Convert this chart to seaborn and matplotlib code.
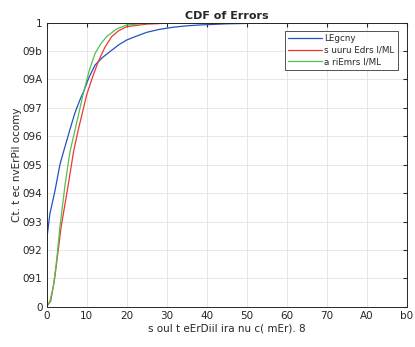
import numpy as np
import pandas as pd
import seaborn as sns
import matplotlib
matplotlib.use("Agg")
import matplotlib.pyplot as plt

# CDF curves (x = error, p = cumulative share)
legacy_x = [0, 0, 0.8, 2.1, 3.3, 4.6, 5.8, 7.0, 8.3, 9.3, 10.5, 12.1, 14.0, 15.8, 18.0,
            20.0, 22.5, 25.0, 28.0, 31.6, 35.0, 38.3, 45.0, 52.0, 60.0, 68.0, 80.0]
legacy_p = [0, 0.235, 0.327, 0.41, 0.5, 0.565, 0.623, 0.68, 0.728, 0.76, 0.805, 0.851, 0.878,
            0.898, 0.922, 0.939, 0.953, 0.966, 0.976, 0.984, 0.989, 0.992, 0.996, 0.998,
            0.999, 1.0, 1.0]

fusion_x = [0, 1.0, 2.0, 3.6, 5.4, 6.7, 7.9, 10.0, 11.5, 12.9, 14.5, 16.25, 18.0, 20.0,
            25.0, 30.0, 40.0, 80.0]
fusion_p = [0, 0.02, 0.1, 0.28, 0.43, 0.545, 0.623, 0.746, 0.81, 0.863, 0.912, 0.951,
            0.972, 0.986, 0.995, 0.998, 1.0, 1.0]

other_x = [0, 0.8, 1.65, 2.5, 3.3, 4.6, 5.8, 7.1, 9.15, 10.6, 12.1, 13.5, 15.0, 17.5,
           20.0, 25.0, 32.7]
other_p = [0, 0.02, 0.07, 0.165, 0.28, 0.43, 0.545, 0.623, 0.751, 0.83, 0.892, 0.925,
           0.951, 0.978, 0.992, 0.998, 1.0]

labels = ["LEgcny", "s uuru Edrs l/ML", "a riEmrs l/ML"]
colors = ["#2352c0", "#f03535", "#52c052"]

xticks = [0, 10, 20, 30, 40, 50, 60, 70, 80, 90]
xtick_labels = ["0", "10", "20", "30", "40", "50", "60", "70", "A0", "b0"]
yticks = [0, 0.1, 0.2, 0.3, 0.4, 0.5, 0.6, 0.7, 0.8, 0.9, 1.0]
ytick_labels = ["0", "091", "092", "093", "094", "095", "096", "097", "09A", "09b", "1"]

df = pd.concat([
    pd.DataFrame({"x": legacy_x, "p": legacy_p, "method": labels[0]}),
    pd.DataFrame({"x": fusion_x, "p": fusion_p, "method": labels[1]}),
    pd.DataFrame({"x": other_x, "p": other_p, "method": labels[2]}),
], ignore_index=True)

sns.set_style("white")
plt.rcParams["font.family"] = ["DejaVu Sans"]

fig = plt.figure(figsize=(4.15, 3.47), dpi=100)
ax = fig.add_axes([0.1125, 0.1161, 0.8675, 0.8185])

sns.lineplot(data=df, x="x", y="p", hue="method", palette=colors, sort=False,
             estimator=None, linewidth=0.9, ax=ax)

ax.set_xlim(0, 90)
ax.set_ylim(0, 1)
ax.set_xticks(xticks)
ax.set_xticklabels(xtick_labels)
ax.set_yticks(yticks)
ax.set_yticklabels(ytick_labels)
ax.tick_params(direction="in", length=3, labelsize=7.5, colors="#262626",
               top=True, right=True, pad=3)
ax.grid(True, color="#e3e3e3", linewidth=0.6)
for s in ax.spines.values():
    s.set_color("#262626")
    s.set_linewidth(0.7)

ax.set_title("CDF of Errors", fontsize=8, fontweight="bold", pad=3)
ax.set_xlabel("s oul t eErDiil ira nu c( mEr). 8", fontsize=7.5, color="#262626", labelpad=2)
ax.set_ylabel("Ct. t ec nvErPil ocomy", fontsize=7.5, color="#262626", labelpad=0)

leg = ax.legend(loc="upper right", bbox_to_anchor=(0.976, 0.972), fontsize=6.3,
                handlelength=3.8, frameon=True, fancybox=False, borderpad=0.4,
                labelspacing=0.3, handletextpad=0.3, borderaxespad=0)
leg.get_frame().set_edgecolor("#262626")
leg.get_frame().set_linewidth(0.7)

fig.savefig("out.png", dpi=100)
